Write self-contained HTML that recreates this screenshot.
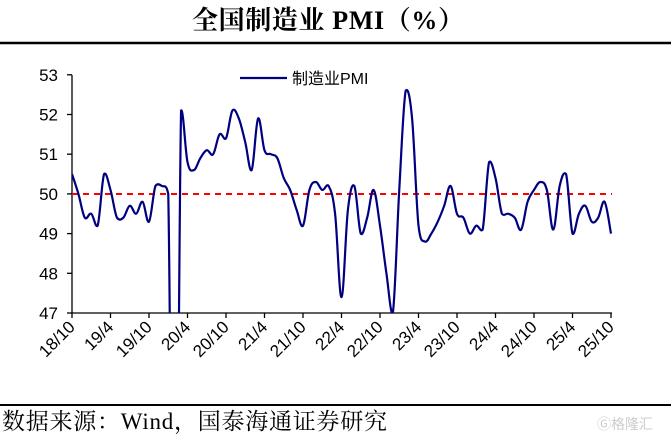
<!DOCTYPE html>
<html><head><meta charset="utf-8"><style>
html,body{margin:0;background:#fff;overflow:hidden;width:671px;height:438px}
svg{display:block}
</style></head><body>
<svg id="s" width="671" height="438" xmlns="http://www.w3.org/2000/svg">
<text x="192" y="29" font-family="Liberation Serif,'Noto Serif CJK SC',serif" font-weight="bold" font-size="26" textLength="272">全国制造业 PMI（%）</text>
<line x1="0" y1="43" x2="671" y2="43" stroke="#000" stroke-width="2.5"/>
<line x1="0" y1="405" x2="671" y2="405" stroke="#000" stroke-width="2"/>
<text x="2" y="429" font-family="Liberation Serif,'Noto Serif CJK SC',serif" font-size="23" textLength="385">数据来源：Wind，国泰海通证券研究</text>
<text x="597" y="429" font-family="Liberation Sans,'Noto Sans CJK SC',sans-serif" font-size="14" fill="#ccc">Ⓖ格隆汇</text>
<defs><clipPath id="c"><rect x="72" y="60" width="545" height="253"/></clipPath></defs>
<g id="ax" font-family="Liberation Sans,Arial,sans-serif" font-size="17"></g>
<line x1="72" y1="194" x2="612" y2="194" stroke="#f00" stroke-width="2" stroke-dasharray="6,5"/>
<path id="p" clip-path="url(#c)" fill="none" stroke="#000080" stroke-width="2.2"/>
<line x1="240" y1="78" x2="287" y2="78" stroke="#000080" stroke-width="2.2"/>
<text x="292" y="84" font-family="Liberation Sans,'Noto Sans CJK SC',sans-serif" font-size="16">制造业PMI</text>
</svg>
<script>
var d=[50.5,50.0,49.4,49.5,49.2,50.5,50.1,49.4,49.4,49.7,49.5,49.8,49.3,50.2,50.2,50.0,35.7,52.1,50.8,50.6,50.9,51.1,51.0,51.5,51.4,52.1,51.9,51.3,50.6,51.9,51.1,51.0,50.9,50.4,50.1,49.6,49.2,50.1,50.3,50.1,50.2,49.5,47.4,49.6,50.2,49.0,49.4,50.1,49.2,48.0,47.0,50.1,52.6,51.9,49.2,48.8,49.0,49.3,49.7,50.2,49.5,49.4,49.0,49.2,49.1,50.8,50.4,49.5,49.5,49.4,49.1,49.8,50.1,50.3,50.1,49.1,50.2,50.5,49.0,49.5,49.7,49.3,49.4,49.8,49.0];
var x0=72,dx=539/84;function X(i){return x0+i*dx}function Y(v){return 313-(v-47)*39.7}
var pts=d.map(function(v,i){return[X(i),Y(v)]});
function cl(v,a,b){var lo=Math.min(a,b),hi=Math.max(a,b);return Math.max(lo-3,Math.min(hi+3,v));}
var s="M"+pts[0][0]+","+pts[0][1];
for(var i=0;i<pts.length-1;i++){var p0=pts[Math.max(0,i-1)],p1=pts[i],p2=pts[i+1],p3=pts[Math.min(pts.length-1,i+2)];
var t=0.18;var c1y=cl(p1[1]+(p2[1]-p0[1])*t,p1[1],p2[1]),c2y=cl(p2[1]-(p3[1]-p1[1])*t,p1[1],p2[1]);
s+=" C"+(p1[0]+(p2[0]-p0[0])*t)+","+c1y+" "+(p2[0]-(p3[0]-p1[0])*t)+","+c2y+" "+p2[0]+","+p2[1];}
document.getElementById("p").setAttribute("d",s);
var g=document.getElementById("ax"),h='<line x1="72" y1="75" x2="72" y2="313" stroke="#000" stroke-width="1.3"/><line x1="72" y1="313" x2="612" y2="313" stroke="#000" stroke-width="1.3"/>';
for(var v=47;v<=53;v++){var y=Y(v);h+='<line x1="67" y1="'+y+'" x2="72" y2="'+y+'" stroke="#000" stroke-width="1.3"/><text x="58" y="'+(y+6)+'" text-anchor="end">'+v+'</text>';}
var L=["18/10","19/4","19/10","20/4","20/10","21/4","21/10","22/4","22/10","23/4","23/10","24/4","24/10","25/4","25/10"];
for(var k=0;k<L.length;k++){var x=X(k*6);h+='<line x1="'+x+'" y1="313" x2="'+x+'" y2="318" stroke="#000" stroke-width="1.3"/><text transform="translate('+(x+4)+',328) rotate(-45)" text-anchor="end">'+L[k]+'</text>';}
g.innerHTML=h;
</script>
</body></html>
